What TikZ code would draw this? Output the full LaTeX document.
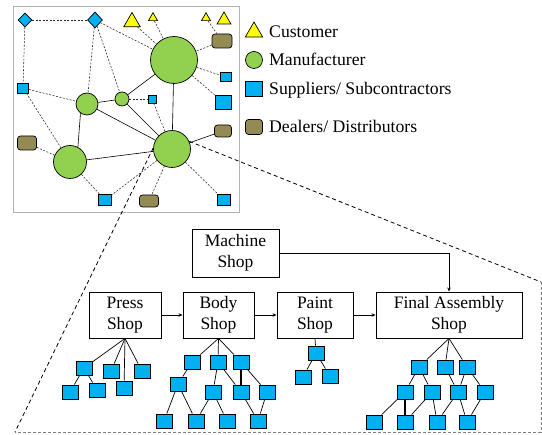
\documentclass[tikz,border=0pt]{standalone}
\usepackage{fontspec}
\setmainfont{Liberation Serif}
\usetikzlibrary{shapes.geometric,arrows.meta}
\definecolor{mfrgreen}{HTML}{92D050}
\definecolor{supblue}{HTML}{00B0F0}
\definecolor{custyellow}{HTML}{FFFF00}
\definecolor{dealerolive}{HTML}{948A54}

\begin{document}
\begin{tikzpicture}[x=1pt,y=-1pt,
    mfr/.style={circle, draw, line width=0.7pt, fill=mfrgreen, inner sep=0pt, minimum size=#1},
    sup/.style 2 args={rectangle, draw, line width=0.7pt, fill=supblue, inner sep=0pt, minimum width=#1, minimum height=#2},
    dia/.style 2 args={diamond, draw, line width=0.7pt, fill=supblue, inner sep=0pt, minimum width=#1, minimum height=#2},
    cust/.style={regular polygon, regular polygon sides=3, draw, line width=0.7pt, fill=custyellow, inner sep=0pt, minimum size=#1},
    dealer/.style 2 args={rectangle, rounded corners=3pt, draw, line width=0.7pt, fill=dealerolive, inner sep=0pt, minimum width=#1, minimum height=#2},
    link/.style={dash pattern=on 2pt off 1.5pt, gray!30!black, line width=0.55pt},
    tie/.style={line width=0.6pt},
    part/.style={rectangle, draw, line width=0.9pt, fill=supblue, inner sep=0pt, minimum width=16pt, minimum height=14pt},
    shop/.style={rectangle, draw, line width=0.9pt, align=center, font=\fontsize{17.5}{21}\selectfont, minimum height=46pt, minimum width=#1},
    legtext/.style={anchor=base west, inner sep=0pt, font=\fontsize{17.7}{21}\selectfont},
    flow/.style={-{Stealth[length=4pt,width=3.5pt]}, line width=0.8pt},
    zoomline/.style={dash pattern=on 4pt off 3pt, line width=0.8pt},
    frame/.style={dash pattern=on 3pt off 2pt, gray, line width=0.8pt}]
  \useasboundingbox (0,0) rectangle (542,435);

  % supply network panel
  \draw[gray!60, line width=0.8pt] (13,6) rectangle (239,212);
  \node[dia={14}{14}] (d1) at (25,20) {};
  \node[dia={15}{16}] (d2) at (95,20) {};
  \node[cust=19] (t1) at (132,22) {};
  \node[cust=10.5] (t2) at (153,18) {};
  \node[cust=10.5] (t3) at (206,18) {};
  \node[cust=16] (t4) at (224,20) {};
  \node[dealer={20}{14}] (dl1) at (222,41) {};
  \node[mfr=47] (c1) at (174,60) {};
  \node[sup={11}{9}] (s1) at (226,77) {};
  \node[sup={11}{10}] (s2) at (23,88) {};
  \node[mfr=22] (c2) at (87,104) {};
  \node[mfr=14] (c3) at (122,99) {};
  \node[sup={8}{8}] (s3) at (152,99) {};
  \node[sup={16}{14}] (s4) at (223,102) {};
  \node[dealer={17}{12}] (dl2) at (223,131) {};
  \node[dealer={19}{14}] (dl3) at (27,143) {};
  \node[mfr=33] (c4) at (70,162) {};
  \node[mfr=37] (c5) at (172,149) {};
  \node[sup={13}{11}] (s5) at (105,200) {};
  \node[dealer={19}{12}] (dl4) at (149,201) {};
  \node[sup={13}{11}] (s6) at (224,200) {};

  \foreach \a/\b in {d1/d2, d1/s2, d2/c2, d2/c3, d2/c1, t1/c1, t2/c1, t3/dl1, dl1/c1, c1/s1, c1/s4,
                     s2/c2, s2/c4, s3/c5, dl3/c4, c4/s5, c5/s5, c5/dl4, c5/s6}
    \draw[link] (\a) -- (\b);
  \draw[link, line width=0.9pt] (c3) -- (s3);
  \foreach \a/\b in {c1/c3, c1/c5, c2/c3, c2/c5, c3/c5, c4/c5, c5/dl2}
    \draw[tie] (\a) -- (\b);
  \draw[tie] (c2.235) -- (c4.62);

  % legend
  \node[cust=20] (lcust) at (254,32) {};
  \node[mfr=17] (lmfr) at (254,60) {};
  \node[sup={17}{15}] (lsup) at (254,89) {};
  \node[dealer={17}{15}] (ldeal) at (254,127) {};
  \node[legtext] (lcust-t) at (269,38) {Customer};
  \node[legtext] (lmfr-t) at (269,66) {Manufacturer};
  \node[legtext] (lsup-t) at (269,95) {Suppliers/ Subcontractors};
  \node[legtext] (ldeal-t) at (269,133) {Dealers/ Distributors};

  % zoom into one plant
  \coordinate (zl) at (15,432);
  \coordinate (zr) at (541,282);
  \coordinate (zb) at (541,432);
  \draw[zoomline] (c5.177) -- (zl);
  \draw[zoomline] (c5.24) -- (zr);
  \draw[frame] (zr) -- (zb) -- (zl);

  % shops
  \node[shop=87pt, minimum height=48pt] (machine) at (235.5,253) {Machine\\Shop};
  \node[shop=72pt] (press) at (125,315) {Press\\Shop};
  \node[shop=71pt] (body) at (218.5,315) {Body\\Shop};
  \node[shop=76pt] (paint) at (315,315) {Paint\\Shop};
  \node[shop=146pt] (final) at (449,315) {Final Assembly\\Shop};
  \draw[flow] (press) -- (body);
  \draw[flow] (body) -- (paint);
  \draw[flow] (paint) -- (final);
  \draw[flow] (machine.east) -| (final.north);

  % part trees
  \foreach \n/\x/\y in {p1/84/368, p2/111/371, p3/142/371, p4/70/392, p5/97/390, p6/124/388,
                        b1/192/362, b2/218/362, b3/241/362, b4/178/384, b5/213/392, b6/241/392,
                        b7/267/392, b8/164/421, b9/196/421, b10/227/421, b11/258/421,
                        q1/316/353, q2/303/377, q3/330/376,
                        f1/419/367, f2/445/367, f3/467/367, f4/405/392, f5/432/392, f6/458/392,
                        f7/485/392, f8/374/422, f9/405/422, f10/437/422, f11/467/422}
    \node[part] (\n) at (\x,\y) {};

  \foreach \a/\b in {press.south/p1, press.south/p2, press.south/p3, press.south/p6, p1/p4, p1/p5,
                     body.south/b1, body.south/b2, body.south/b3, b1/b4, b4/b8, b4/b9, b2/b5, b2/b6,
                     b3/b7, b5/b9, b5/b10, b6/b11, b7/b11,
                     paint.south/q1, q1/q2, q1/q3,
                     final.south/f1, final.south/f2, final.south/f3, f1/f4, f1/f5, f2/f6, f3/f6,
                     f3/f7, f4/f8, f5/f9, f5/f10, f6/f10, f6/f11, f7/f11}
    \draw[line width=0.7pt] (\a) -- (\b);
  \draw[line width=1.4pt] (b3) -- (b6);
  \draw[line width=1.4pt] (f4) -- (f9);
\end{tikzpicture}
\end{document}
